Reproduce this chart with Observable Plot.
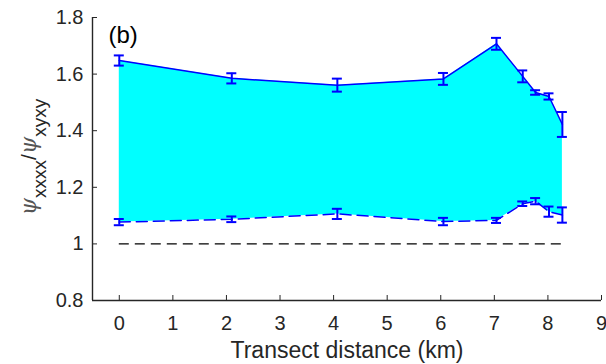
<!DOCTYPE html>
<html><head><meta charset="utf-8">
<script src="https://cdn.jsdelivr.net/npm/d3@7"></script>
<script src="https://cdn.jsdelivr.net/npm/@observablehq/plot@0.6"></script>
<style>body{margin:0;background:#fff}</style>
</head><body><div id="chart"></div>
<script>
// Data
const distance = [0, 2.1, 4.07, 6.05, 7.04, 7.53, 7.77, 8.02, 8.27];
const upper    = [1.648, 1.585, 1.561, 1.583, 1.707, 1.592, 1.535, 1.521, 1.422];
const upperErr = [0.018, 0.018, 0.023, 0.021, 0.021, 0.021, 0.008, 0.011, 0.044];
const lower    = [1.077, 1.087, 1.106, 1.079, 1.083, 1.142, 1.151, 1.114, 1.102];
const lowerErr = [0.011, 0.010, 0.018, 0.013, 0.009, 0.008, 0.011, 0.018, 0.027];
const xTicks = [0, 1, 2, 3, 4, 5, 6, 7, 8, 9];
const yTicks = [0.8, 1, 1.2, 1.4, 1.6, 1.8];
const xDomain = [-0.5, 9];
const yDomain = [0.8, 1.8];
const refValue = 1;
const panelLabel = "(b)";
const xLabel = "Transect distance (km)";

const data = distance.map((x, i) => ({x, hi: upper[i], hiErr: upperErr[i], lo: lower[i], loErr: lowerErr[i]}));
const blue = "#0000ff";
const axisColor = "#262626";

const chart = Plot.plot({
  width: 606, height: 364,
  marginLeft: 92, marginRight: 5, marginTop: 17, marginBottom: 64,
  style: {fontFamily: "'Liberation Sans', Arial, sans-serif", fontSize: "20px", color: axisColor, background: "white"},
  x: {domain: xDomain},
  y: {domain: yDomain},
  marks: [
    Plot.areaY(data, {x: "x", y1: "lo", y2: "hi", fill: "#00ffff"}),
    Plot.ruleY([refValue], {x1: d3.min(distance), x2: d3.max(distance), stroke: "black", strokeWidth: 1.4, strokeDasharray: "10,6"}),
    Plot.line(data, {x: "x", y: "hi", stroke: blue, strokeWidth: 1.5}),
    Plot.line(data, {x: "x", y: "lo", stroke: blue, strokeWidth: 1.5, strokeDasharray: "11,6"}),
    Plot.ruleX(data, {x: "x", y1: d => d.hi - d.hiErr, y2: d => d.hi + d.hiErr, stroke: blue, strokeWidth: 2}),
    Plot.ruleX(data, {x: "x", y1: d => d.lo - d.loErr, y2: d => d.lo + d.loErr, stroke: blue, strokeWidth: 2}),
    Plot.ruleY(data, {y: d => d.hi + d.hiErr, x1: "x", x2: "x", insetLeft: -5, insetRight: -5, stroke: blue, strokeWidth: 2}),
    Plot.ruleY(data, {y: d => d.hi - d.hiErr, x1: "x", x2: "x", insetLeft: -5, insetRight: -5, stroke: blue, strokeWidth: 2}),
    Plot.ruleY(data, {y: d => d.lo + d.loErr, x1: "x", x2: "x", insetLeft: -5, insetRight: -5, stroke: blue, strokeWidth: 2}),
    Plot.ruleY(data, {y: d => d.lo - d.loErr, x1: "x", x2: "x", insetLeft: -5, insetRight: -5, stroke: blue, strokeWidth: 2}),
    Plot.axisX({ticks: xTicks, tickSize: -5, tickPadding: 20, label: null, stroke: axisColor}),
    Plot.axisY({ticks: yTicks, tickSize: -5, tickPadding: 14, label: null, stroke: axisColor, tickFormat: d => String(+d.toFixed(1))}),
    Plot.ruleX([xDomain[0]], {stroke: axisColor, strokeWidth: 1.4}),
    Plot.ruleY([yDomain[0]], {stroke: axisColor, strokeWidth: 1.4}),
    Plot.text([panelLabel], {frameAnchor: "top-left", dx: 16, dy: 8, fontSize: 24, textAnchor: "start", lineAnchor: "top", fill: "black"}),
    Plot.text([xLabel], {frameAnchor: "bottom", dy: 50, fontSize: 23, lineAnchor: "middle", fill: axisColor})
  ]
});

// y-axis label with subscripts
const svg = d3.select(chart);
const yl = svg.append("text")
  .attr("transform", "translate(36,157) rotate(-90)")
  .attr("text-anchor", "middle")
  .attr("fill", axisColor)
  .attr("font-family", "'Liberation Sans', Arial, sans-serif");
const serif = "'DejaVu Serif', 'Liberation Serif', serif";
yl.append("tspan").attr("font-family", serif).attr("font-style", "italic").attr("font-size", 22).attr("fill", "#555").text("ψ");
yl.append("tspan").attr("font-size", 19).attr("dy", 10).text("xxxx");
yl.append("tspan").attr("font-size", 21).attr("dy", -10).text("/");
yl.append("tspan").attr("font-family", serif).attr("font-style", "italic").attr("font-size", 22).attr("fill", "#555").text("ψ");
yl.append("tspan").attr("font-size", 19).attr("dy", 10).text("xyxy");

document.getElementById("chart").appendChild(chart);
</script>
</body></html>
